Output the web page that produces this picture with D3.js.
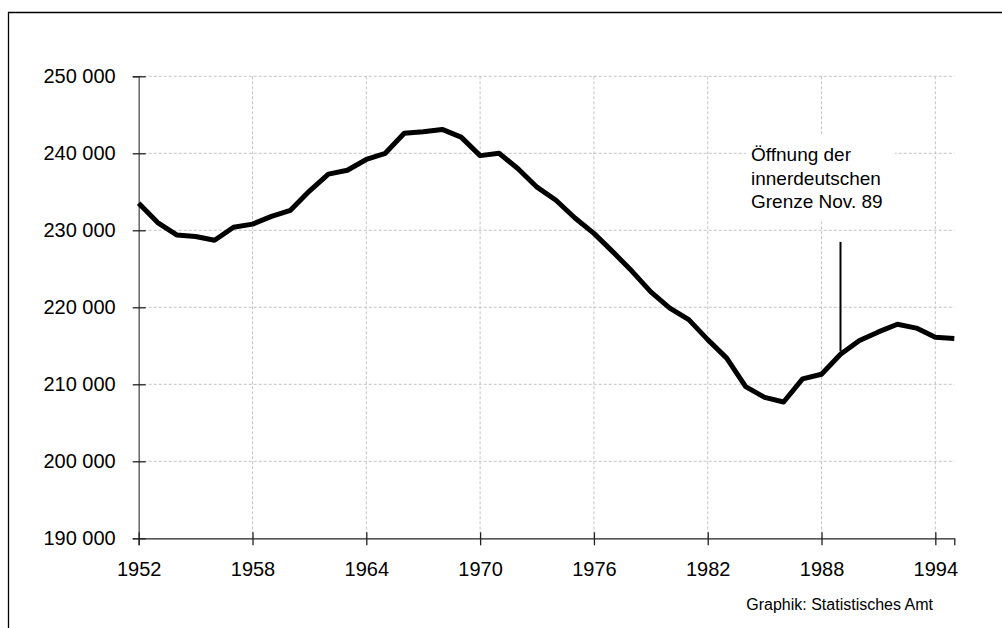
<!DOCTYPE html>
<html>
<head>
<meta charset="utf-8">
<script src="https://cdn.jsdelivr.net/npm/d3@7"></script>
<style>
  body { margin: 0; background: #fff; }
  svg { display: block; font-family: "Liberation Sans", Arial, sans-serif; }
</style>
</head>
<body>
<div id="chart"></div>
<script>
// data
const years = d3.range(1952, 1996);
const values = [
  233500, 231000, 229400, 229200, 228700, 230400, 230800, 231800, 232600, 235100,
  237300, 237800, 239200, 240000, 242600, 242800, 243100, 242100, 239700, 240000,
  238000, 235600, 233900, 231600, 229600, 227200, 224700, 222000, 219900, 218400,
  215800, 213400, 209700, 208300, 207700, 210700, 211300, 213900, 215700, 216800,
  217800, 217300, 216100, 215950
];
const xTicks = [1952, 1958, 1964, 1970, 1976, 1982, 1988, 1994];
const yTicks = [190000, 200000, 210000, 220000, 230000, 240000, 250000];
const noteYear = 1989;
const noteTop = 228500;
const noteLines = ["Öffnung der", "innerdeutschen", "Grenze Nov. 89"];
const source = "Graphik: Statistisches Amt";

const width = 1002;
const height = 628;

const svg = d3.select("#chart")
  .append("svg")
  .attr("width", width)
  .attr("height", height);

// outer frame (cut off at right and bottom)
svg.append("path")
  .attr("d", `M8.5,${height} V12.5 H${width}`)
  .attr("fill", "none")
  .attr("stroke", "#000")
  .attr("stroke-width", 1.3);

const x = d3.scaleLinear().domain([1952, 1995]).range([138.7, 954.3]);
const y = d3.scaleLinear().domain([190000, 250000]).range([538.3, 76.3]);

const fmt = d3.formatLocale({ decimal: ",", thousands: " ", grouping: [3], currency: ["", ""] }).format(",");

// grid
svg.append("g")
  .selectAll("line.hg")
  .data(yTicks.filter(d => d > 190000))
  .join("line")
  .attr("x1", x(1952)).attr("x2", x(1995))
  .attr("y1", d => y(d)).attr("y2", d => y(d))
  .attr("stroke", "#c4c4c4").attr("stroke-width", 1)
  .attr("stroke-dasharray", "3,2");

svg.append("g")
  .selectAll("line.vg")
  .data(xTicks.filter(d => d > 1952))
  .join("line")
  .attr("x1", d => x(d)).attr("x2", d => x(d))
  .attr("y1", y(250000)).attr("y2", y(190000))
  .attr("stroke", "#c4c4c4").attr("stroke-width", 1)
  .attr("stroke-dasharray", "3,2");

// y axis
const yAxis = svg.append("g")
  .attr("transform", `translate(${x(1952)},0)`)
  .call(d3.axisLeft(y).tickValues(yTicks).tickFormat(fmt).tickSize(6).tickPadding(17));
yAxis.select(".domain").attr("stroke", "#666").attr("stroke-width", 1.5);
yAxis.selectAll(".tick line").attr("x1", -6).attr("x2", 7).attr("stroke", "#222").attr("stroke-width", 1.3);
yAxis.selectAll("text").style("font-size", "20px").attr("fill", "#000")
  .style("font-family", "'Liberation Sans', Arial, sans-serif");

// x axis
const xAxis = svg.append("g")
  .attr("transform", `translate(0,${y(190000)})`)
  .call(d3.axisBottom(x).tickValues(xTicks).tickFormat(d3.format("d")).tickSize(7).tickPadding(17));
xAxis.select(".domain").attr("stroke", "#222").attr("stroke-width", 1.3);
xAxis.selectAll(".tick line").attr("y1", -6).attr("y2", 7).attr("stroke", "#222").attr("stroke-width", 1.3);
xAxis.selectAll("text").style("font-size", "20px").attr("fill", "#000")
  .style("font-family", "'Liberation Sans', Arial, sans-serif");

// annotation box and text
svg.append("rect")
  .attr("x", 746).attr("y", 134)
  .attr("width", 149).attr("height", 85)
  .attr("fill", "#fff");

svg.append("text")
  .attr("x", 751).attr("y", 161)
  .style("font-size", "19px")
  .selectAll("tspan")
  .data(noteLines)
  .join("tspan")
  .attr("x", 751)
  .attr("dy", (d, i) => i === 0 ? 0 : 23.5)
  .text(d => d);

const noteIdx = years.indexOf(noteYear);
svg.append("line")
  .attr("x1", x(noteYear)).attr("x2", x(noteYear))
  .attr("y1", y(noteTop)).attr("y2", y(values[noteIdx]) - 3)
  .attr("stroke", "#000").attr("stroke-width", 2);

// main line
const line = d3.line()
  .x((d, i) => x(years[i]))
  .y(d => y(d));

svg.append("path")
  .datum(values)
  .attr("fill", "none")
  .attr("stroke", "#000")
  .attr("stroke-width", 5)
  .attr("stroke-linejoin", "round")
  .attr("d", line);

// source
svg.append("text")
  .attr("x", 933).attr("y", 610)
  .attr("text-anchor", "end")
  .style("font-size", "16px")
  .text(source);
</script>
</body>
</html>
